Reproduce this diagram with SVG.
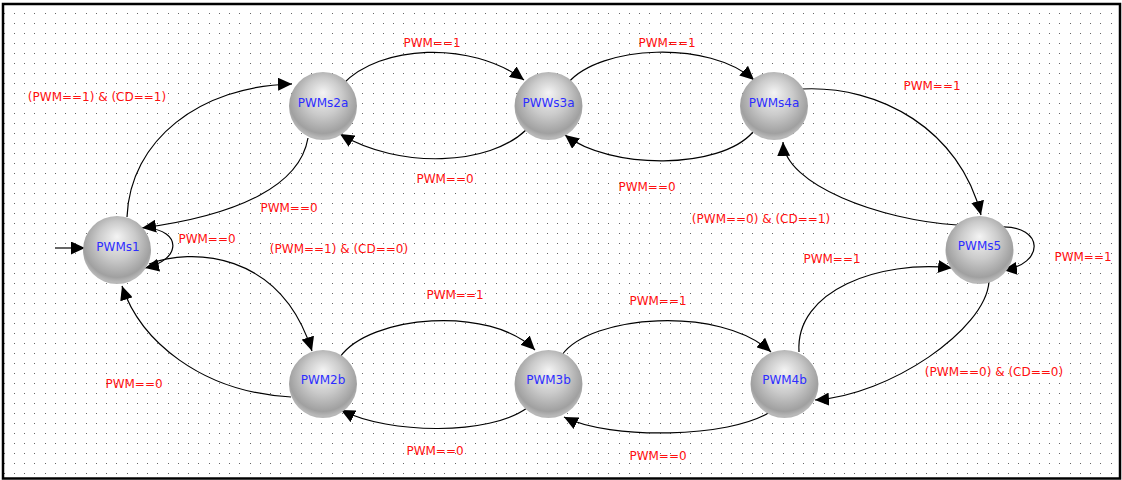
<svg xmlns="http://www.w3.org/2000/svg" width="1122" height="480" viewBox="0 0 1122 480">
<style>
.edge{fill:none;stroke:#000;stroke-width:1.2;marker-end:url(#ah)}
.lbl{font-family:"DejaVu Sans",sans-serif;font-size:12px;fill:#ff1010;text-anchor:middle}
.ntxt{font-family:"DejaVu Sans",sans-serif;font-size:12px;fill:#2d2dff;text-anchor:middle}
.node{fill:url(#ng)}
.dot{fill:#666}
</style>
<defs>
<pattern id="dots" x="14" y="13" width="41" height="10" patternUnits="userSpaceOnUse">
<rect class="dot" x="0" y="0" width="1" height="1"/>
<rect class="dot" x="10" y="0" width="1" height="1"/>
<rect class="dot" x="20" y="0" width="1" height="1"/>
<rect class="dot" x="31" y="0" width="1" height="1"/>
</pattern>
<radialGradient id="ng" cx="0.5" cy="0.42" r="0.55" fx="0.5" fy="0.3">
<stop offset="0" stop-color="#f4f4f4"/>
<stop offset="0.5" stop-color="#cbcbcb"/>
<stop offset="0.9" stop-color="#a0a0a0"/>
<stop offset="1" stop-color="#b8b8b8"/>
</radialGradient>
<marker id="ah" markerUnits="userSpaceOnUse" markerWidth="15" markerHeight="13" refX="14" refY="6.5" orient="auto">
<path d="M0,0 L14,6.5 L0,13 z" fill="#000"/>
</marker>
</defs>
<rect x="0" y="0" width="1122" height="480" fill="#fff"/>
<rect x="4" y="5" width="1115" height="472" fill="url(#dots)"/>
<rect x="3" y="4" width="1117" height="474.5" fill="none" stroke="#000" stroke-width="2.5"/>

<g id="connectors">
<path class="edge" d="M55,248 L85,248"/>
<path class="edge" d="M127,217 C130,140 200,86 292,84"/>
<path class="edge" d="M308,138 C300,185 240,215 142,228"/>
<path class="edge" d="M146,228 C182,230 182,260 145,268"/>
<path class="edge" d="M149,264 C190,248 280,250 312,351"/>
<path class="edge" d="M291,397 C200,392 140,340 122,286"/>
<path class="edge" d="M343,84 C380,45 470,40 524,80"/>
<path class="edge" d="M526,130 C490,165 400,170 340,134"/>
<path class="edge" d="M568,83 C600,45 710,40 754,80"/>
<path class="edge" d="M753,132 C720,170 610,170 565,135"/>
<path class="edge" d="M802,89 C880,85 960,130 981,215"/>
<path class="edge" d="M957,225 C880,220 785,185 783,142"/>
<path class="edge" d="M1000,227 C1045,225 1045,265 1003,270"/>
<path class="edge" d="M799,352 C795,290 880,260 952,268"/>
<path class="edge" d="M989,282 C985,330 890,395 815,400"/>
<path class="edge" d="M340,357 C370,315 490,305 535,350"/>
<path class="edge" d="M527,408 C490,435 390,435 341,410"/>
<path class="edge" d="M562,355 C590,315 720,305 771,352"/>
<path class="edge" d="M770,412 C730,438 610,440 564,417"/>
</g>

<g id="labels">
<text class="lbl" x="97" y="101">(PWM==1) &amp; (CD==1)</text>
<text class="lbl" x="432" y="47">PWM==1</text>
<text class="lbl" x="667" y="47">PWM==1</text>
<text class="lbl" x="445" y="183">PWM==0</text>
<text class="lbl" x="647" y="191">PWM==0</text>
<text class="lbl" x="932" y="90">PWM==1</text>
<text class="lbl" x="289" y="212">PWM==0</text>
<text class="lbl" x="207" y="243">PWM==0</text>
<text class="lbl" x="339" y="253">(PWM==1) &amp; (CD==0)</text>
<text class="lbl" x="761" y="223">(PWM==0) &amp; (CD==1)</text>
<text class="lbl" x="832" y="263">PWM==1</text>
<text class="lbl" x="1083" y="261">PWM==1</text>
<text class="lbl" x="994" y="376">(PWM==0) &amp; (CD==0)</text>
<text class="lbl" x="134" y="388">PWM==0</text>
<text class="lbl" x="455" y="299">PWM==1</text>
<text class="lbl" x="658" y="305">PWM==1</text>
<text class="lbl" x="435" y="455">PWM==0</text>
<text class="lbl" x="658" y="460">PWM==0</text>
</g>

<g id="PWMs1"><circle class="node" cx="117" cy="250" r="34"/><text class="ntxt" x="118" y="251">PWMs1</text></g>
<g id="PWMs2a"><circle class="node" cx="323" cy="106" r="34"/><text class="ntxt" x="323" y="107">PWMs2a</text></g>
<g id="PWWs3a"><circle class="node" cx="548.5" cy="106" r="34"/><text class="ntxt" x="548.5" y="107">PWWs3a</text></g>
<g id="PWMs4a"><circle class="node" cx="774" cy="106" r="34"/><text class="ntxt" x="774" y="107">PWMs4a</text></g>
<g id="PWMs5"><circle class="node" cx="979.5" cy="250" r="34"/><text class="ntxt" x="979.5" y="250">PWMs5</text></g>
<g id="PWM2b"><circle class="node" cx="323" cy="384" r="34"/><text class="ntxt" x="323" y="384">PWM2b</text></g>
<g id="PWM3b"><circle class="node" cx="548.5" cy="384" r="34"/><text class="ntxt" x="548.5" y="384">PWM3b</text></g>
<g id="PWM4b"><circle class="node" cx="784.5" cy="384" r="34"/><text class="ntxt" x="784.5" y="384">PWM4b</text></g>
</svg>
